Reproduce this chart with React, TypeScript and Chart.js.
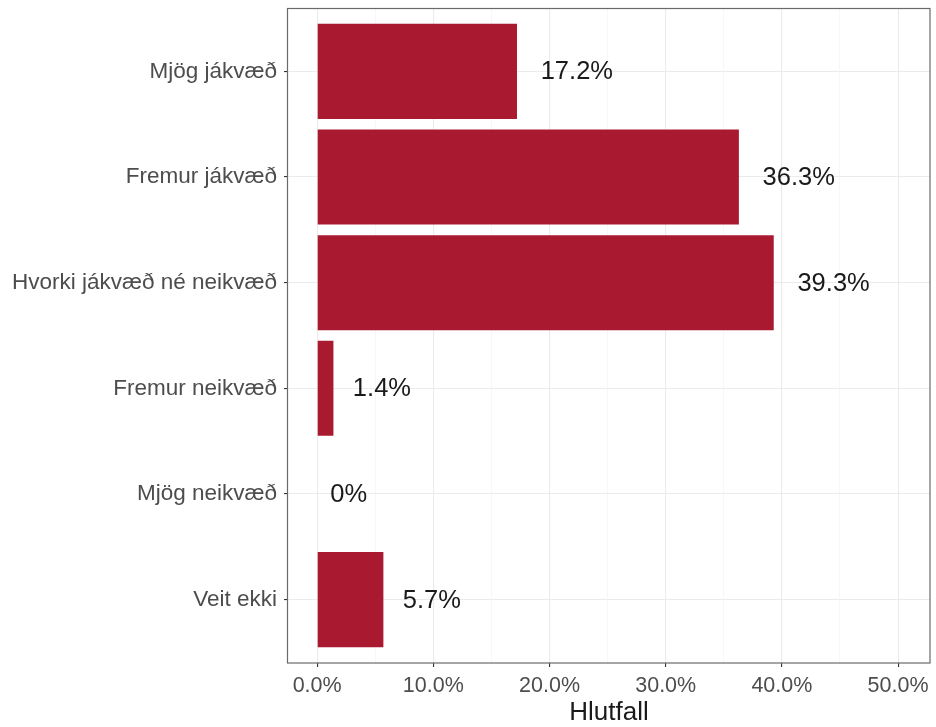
import React, { useEffect, useRef } from 'react';
import { Chart, registerables } from 'chart.js';

Chart.register(...registerables);

const categories = [
  'Mjög jákvæð',
  'Fremur jákvæð',
  'Hvorki jákvæð né neikvæð',
  'Fremur neikvæð',
  'Mjög neikvæð',
  'Veit ekki',
];
const values = [17.2, 36.3, 39.3, 1.4, 0, 5.7];
const valueLabels = ['17.2%', '36.3%', '39.3%', '1.4%', '0%', '5.7%'];
const xMajorTicks = [0, 10, 20, 30, 40, 50];
const xTickLabels = ['0.0%', '10.0%', '20.0%', '30.0%', '40.0%', '50.0%'];
const xMinorTicks = [5, 15, 25, 35, 45];
const xTitle = 'Hlutfall';

const BAR_COLOR = '#a91a30';
const FONT = '"Liberation Sans", Arial, Helvetica, sans-serif';

const panelPlugin = {
  id: 'panelBorder',
  afterDatasetsDraw(chart: any) {
    const ctx = chart.ctx;
    const meta = chart.getDatasetMeta(0);
    ctx.save();
    ctx.font = `25.5px ${FONT}`;
    ctx.fillStyle = '#1a1a1a';
    ctx.textBaseline = 'middle';
    ctx.textAlign = 'left';
    meta.data.forEach((el: any, i: number) => {
      const txt = valueLabels[i];
      const w = ctx.measureText(txt).width;
      ctx.fillText(txt, el.x + 0.3 * w + 2, el.y + 1);
    });
    ctx.restore();
  },
  afterDraw(chart: any) {
    const { ctx, chartArea } = chart;
    ctx.save();
    ctx.strokeStyle = '#6a6a6a';
    ctx.lineWidth = 1.2;
    ctx.strokeRect(
      chartArea.left - 0.5,
      chartArea.top + 0.5,
      chartArea.right - chartArea.left + 0.5,
      chartArea.bottom - chartArea.top - 0.5
    );
    ctx.restore();
  },
};

export default function App() {
  const ref = useRef<HTMLCanvasElement | null>(null);

  useEffect(() => {
    if (!ref.current) return;
    const data = categories.map((_, i) => ({ y: i + 1, x: values[i] }));
    const chart = new Chart(ref.current, {
      type: 'bar',
      data: {
        datasets: [
          {
            data: data as any,
            backgroundColor: BAR_COLOR,
            borderWidth: 0,
            barPercentage: 0.9,
            categoryPercentage: 1.0,
          },
        ],
      },
      options: {
        indexAxis: 'y',
        responsive: false,
        animation: false,
        devicePixelRatio: 1,
        layout: { padding: { left: 0, top: 8, right: 6, bottom: 0 } },
        plugins: {
          legend: { display: false },
          tooltip: { enabled: false },
        },
        scales: {
          y: {
            type: 'linear',
            reverse: true,
            min: 0.4,
            max: 6.6,
            offset: false,
            afterBuildTicks: (scale: any) => {
              scale.ticks = categories.map((_, i) => ({ value: i + 1 }));
            },
            afterFit: (scale: any) => {
              scale.width = 288;
              scale.paddingTop = 0;
              scale.paddingBottom = 0;
            },
            border: { display: false },
            grid: {
              offset: false,
              color: '#ebebeb',
              lineWidth: 1.1,
              tickColor: '#333333',
              tickLength: 4,
              drawTicks: true,
            },
            ticks: {
              autoSkip: false,
              padding: 7,
              color: '#4d4d4d',
              font: { family: FONT, size: 22.5 },
              callback: (v: any) => categories[Math.round(Number(v)) - 1] ?? '',
            },
          },
          x: {
            type: 'linear',
            min: -2.51,
            max: 52.75,
            offset: false,
            afterBuildTicks: (scale: any) => {
              const all = [...xMajorTicks, ...xMinorTicks].sort((a, b) => a - b);
              scale.ticks = all.map((v) => ({ value: v }));
            },
            afterFit: (scale: any) => {
              scale.height = 64;
              scale.paddingLeft = 0;
              scale.paddingRight = 0;
            },
            border: { display: false },
            grid: {
              offset: false,
              color: (c: any) =>
                xMajorTicks.includes(c.tick?.value) ? '#ebebeb' : '#f3f3f3',
              lineWidth: (c: any) => (xMajorTicks.includes(c.tick?.value) ? 1.1 : 0.7),
              tickColor: (c: any) =>
                xMajorTicks.includes(c.tick?.value) ? '#333333' : 'rgba(0,0,0,0)',
              tickLength: 4,
              drawTicks: true,
            },
            ticks: {
              autoSkip: false,
              maxRotation: 0,
              padding: 6,
              color: '#4d4d4d',
              font: { family: FONT, size: 21.5 },
              callback: (v: any) => {
                const idx = xMajorTicks.indexOf(Number(v));
                return idx >= 0 ? xTickLabels[idx] : '';
              },
            },
            title: {
              display: true,
              text: xTitle,
              color: '#1a1a1a',
              font: { family: FONT, size: 26, lineHeight: 1 },
              padding: { top: 0, bottom: 1 },
            },
          },
        },
      },
      plugins: [panelPlugin],
    });
    return () => chart.destroy();
  }, []);

  return (
    <div style={{ position: 'absolute', left: 0, top: 0, width: 936, height: 727, background: '#fff' }}>
      <canvas ref={ref} width={936} height={727} style={{ display: 'block', width: 936, height: 727 }} />
    </div>
  );
}
